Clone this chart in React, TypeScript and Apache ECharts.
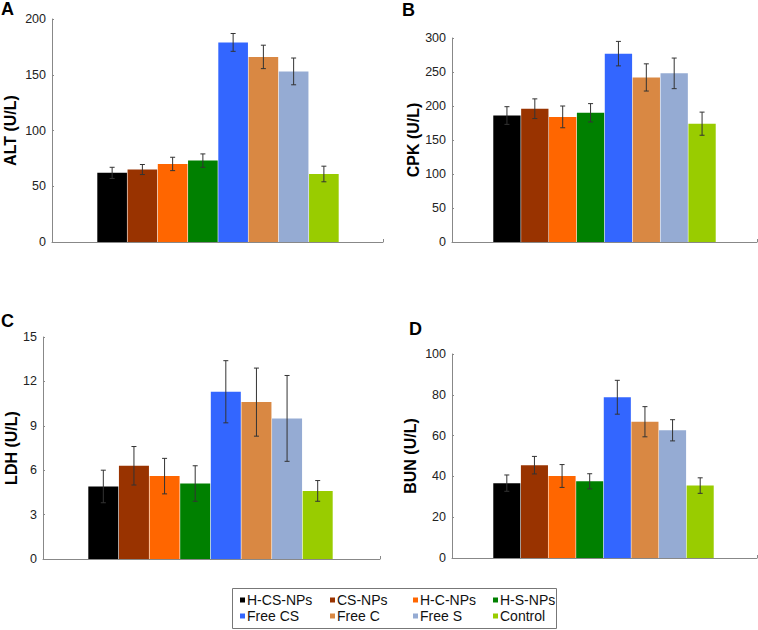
import React, { useEffect, useRef } from "react";
import * as echarts from "echarts";

const groups = ["H-CS-NPs", "CS-NPs", "H-C-NPs", "H-S-NPs", "Free CS", "Free C", "Free S", "Control"];

const altValues = [62, 65, 70, 73, 179, 166, 153, 61];
const altErrors = [5, 4.5, 6, 6, 8, 10.5, 12, 7];
const cpkValues = [186, 196, 184, 190, 277, 242, 248, 174];
const cpkErrors = [13, 14.5, 16, 13.5, 18, 20, 22.5, 17];
const ldhValues = [4.9, 6.3, 5.6, 5.1, 11.3, 10.6, 9.5, 4.6];
const ldhErrors = [1.1, 1.3, 1.2, 1.2, 2.1, 2.3, 2.9, 0.7];
const bunValues = [36.7, 45.5, 40.2, 37.6, 78.8, 66.8, 62.6, 35.5];
const bunErrors = [4, 4.3, 5.6, 3.7, 8.3, 7.4, 5.2, 3.8];

const panelLetters = ["A", "B", "C", "D"];
const panelNames = ["ALT (U/L)", "CPK (U/L)", "LDH (U/L)", "BUN (U/L)"];
const axisMax = [200, 300, 15, 100];
const axisInterval = [50, 50, 3, 20];

const colors = ["#000000", "#993300", "#ff6600", "#008000", "#3366ff", "#d98843", "#95abd3", "#99cc00"];

const FONT = "Liberation Sans, Arial, sans-serif";

export default function App() {
  const ref = useRef<HTMLDivElement>(null);

  useEffect(() => {
    if (!ref.current) return;
    const chart = echarts.init(ref.current, null, { renderer: "svg" });

    const values = [altValues, cpkValues, ldhValues, bunValues];
    const errors = [altErrors, cpkErrors, ldhErrors, bunErrors];

    const layout = [
      { outer: { left: 52, top: 19, width: 331, height: 223 }, innerLeft: 97, innerWidth: 242, nameGap: 34, letter: { left: 1, top: 0 } },
      { outer: { left: 452, top: 38, width: 305, height: 204 }, innerLeft: 493, innerWidth: 223, nameGap: 31, letter: { left: 402, top: 1 } },
      { outer: { left: 43, top: 337, width: 337, height: 222 }, innerLeft: 88, innerWidth: 245, nameGap: 24, letter: { left: 1, top: 312 } },
      { outer: { left: 452, top: 354, width: 305, height: 204 }, innerLeft: 493, innerWidth: 221, nameGap: 34, letter: { left: 409, top: 320 } },
    ];

    const grids: any[] = [];
    const xAxes: any[] = [];
    const yAxes: any[] = [];
    const series: any[] = [];
    const titles: any[] = [];

    layout.forEach((L, k) => {
      grids.push({ ...L.outer });
      grids.push({ left: L.innerLeft, top: L.outer.top, width: L.innerWidth, height: L.outer.height });
      const outerIdx = 2 * k;
      const innerIdx = 2 * k + 1;

      xAxes.push({
        gridIndex: outerIdx,
        type: "category",
        data: [""],
        axisLine: { show: true, lineStyle: { color: "#888", width: 1 } },
        axisTick: { show: true, inside: true, length: 3, lineStyle: { color: "#888" } },
        axisLabel: { show: false },
      });
      xAxes.push({
        gridIndex: innerIdx,
        type: "category",
        data: groups,
        show: false,
      });
      yAxes.push({
        gridIndex: outerIdx,
        type: "value",
        min: 0,
        max: axisMax[k],
        interval: axisInterval[k],
        axisLine: { show: true, lineStyle: { color: "#888", width: 1 } },
        axisTick: { show: true, inside: true, length: 2, lineStyle: { color: "#888" } },
        axisLabel: { color: "#222", fontSize: 12.5, fontFamily: FONT, margin: 6 },
        splitLine: { show: false },
        name: panelNames[k],
        nameLocation: "middle",
        nameGap: L.nameGap,
        nameTextStyle: { color: "#000", fontSize: 16, fontWeight: "bold", fontFamily: FONT },
      });
      yAxes.push({
        gridIndex: innerIdx,
        type: "value",
        min: 0,
        max: axisMax[k],
        show: false,
      });

      groups.forEach((g, i) => {
        series.push({
          type: "bar",
          name: g,
          xAxisIndex: innerIdx,
          yAxisIndex: innerIdx,
          stack: "panel" + k,
          barCategoryGap: "2%",
          itemStyle: { color: colors[i] },
          data: groups.map((_, j) => (j === i ? values[k][i] : "-")),
        });
      });

      series.push({
        type: "custom",
        name: "err" + k,
        xAxisIndex: innerIdx,
        yAxisIndex: innerIdx,
        z: 10,
        encode: { x: 0, y: 1 },
        data: values[k].map((v, i) => [i, v, errors[k][i]]),
        renderItem: (params: any, api: any) => {
          const idx = api.value(0);
          const v = api.value(1);
          const e = api.value(2);
          const top = api.coord([idx, v + e]);
          const bot = api.coord([idx, v - e]);
          const hw = 2.5;
          const style = { stroke: "#333", lineWidth: 1 };
          return {
            type: "group",
            children: [
              { type: "line", shape: { x1: top[0], y1: top[1], x2: bot[0], y2: bot[1] }, style },
              { type: "line", shape: { x1: top[0] - hw, y1: top[1], x2: top[0] + hw, y2: top[1] }, style },
              { type: "line", shape: { x1: bot[0] - hw, y1: bot[1], x2: bot[0] + hw, y2: bot[1] }, style },
            ],
          };
        },
      });

      titles.push({
        text: panelLetters[k],
        left: L.letter.left,
        top: L.letter.top,
        padding: 0,
        textStyle: { fontSize: 18, fontWeight: "bold", color: "#000", fontFamily: FONT },
      });
    });

    const legendCols = [
      { left: 240, items: [groups[0], groups[4]] },
      { left: 330, items: [groups[1], groups[5]] },
      { left: 413, items: [groups[2], groups[6]] },
      { left: 493, items: [groups[3], groups[7]] },
    ];

    const legends = legendCols.map((c) => ({
      orient: "vertical",
      left: c.left,
      top: 593,
      padding: 0,
      itemWidth: 5,
      itemHeight: 5,
      itemGap: 2,
      icon: "rect",
      data: c.items,
      selectedMode: false,
      textStyle: { fontSize: 14, color: "#111", fontFamily: FONT, lineHeight: 14, padding: [0, 0, 0, -3] },
    }));

    chart.setOption({
      animation: false,
      backgroundColor: "#fff",
      title: titles,
      grid: grids,
      xAxis: xAxes,
      yAxis: yAxes,
      legend: legends,
      series,
      graphic: [
        {
          type: "rect",
          shape: { x: 232.5, y: 588.5, width: 324, height: 40 },
          style: { fill: "none", stroke: "#777", lineWidth: 1 },
          z: -1,
        },
      ],
    });

    return () => chart.dispose();
  }, []);

  return (
    <div
      ref={ref}
      style={{ width: 758, height: 630, position: "absolute", left: 0, top: 0 }}
    />
  );
}
